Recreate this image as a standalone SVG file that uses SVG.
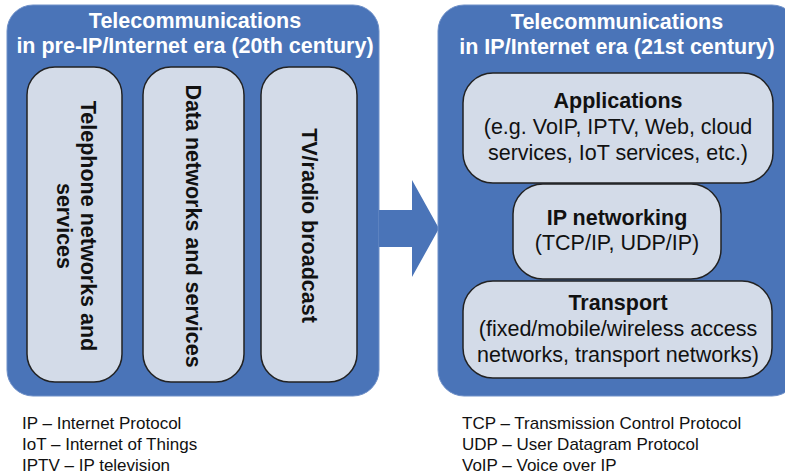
<svg xmlns="http://www.w3.org/2000/svg" width="785" height="475" viewBox="0 0 785 475">
<style>
.big{fill:#4a74b8;stroke:#6f90c8;stroke-width:1}
.pill{fill:#d3dbe8;stroke:#222;stroke-width:1.5}
.title{font-family:"Liberation Sans",Arial,sans-serif;font-weight:bold;font-size:21.5px;fill:#fff;text-anchor:middle}
.bt{font-family:"Liberation Sans",Arial,sans-serif;font-weight:bold;font-size:21.5px;fill:#111;text-anchor:middle}
.rt{font-family:"Liberation Sans",Arial,sans-serif;font-size:21.5px;fill:#111;text-anchor:middle}
.leg{font-family:"Liberation Sans",Arial,sans-serif;font-size:17px;fill:#111}
</style>
<g id="pre-ip-era">
<rect class="big" x="7" y="5" width="372" height="391" rx="26"/>
<text class="title" x="195" y="28">Telecommunications</text>
<text class="title" x="195" y="53">in pre-IP/Internet era (20th century)</text>
</g>
<g id="telephone">
<rect class="pill" x="27" y="67" width="95" height="315" rx="28"/>
<text class="bt" transform="translate(81,226) rotate(90)">Telephone networks and</text>
<text class="bt" transform="translate(57,226) rotate(90)">services</text>
</g>
<g id="data">
<rect class="pill" x="143" y="67" width="101" height="315" rx="28"/>
<text class="bt" transform="translate(186,226) rotate(90)">Data networks and services</text>
</g>
<g id="tv">
<rect class="pill" x="261" y="67" width="96" height="315" rx="28"/>
<text class="bt" transform="translate(302,225.5) rotate(90)">TV/radio broadcast</text>
</g>
<g id="connectors">
<path d="M379,210 H412 V180 L439,228.5 L412,277 V247 H379 Z" fill="#4a74b8"/>
</g>
<g id="ip-era">
<rect class="big" x="438" y="5" width="360" height="391" rx="26"/>
<text class="title" x="617" y="29">Telecommunications</text>
<text class="title" x="617" y="54">in IP/Internet era (21st century)</text>
</g>
<g id="applications">
<rect class="pill" x="463" y="73" width="310" height="110" rx="30"/>
<text class="bt" x="618" y="108">Applications</text>
<text class="rt" x="618" y="134">(e.g. VoIP, IPTV, Web, cloud</text>
<text class="rt" x="618" y="160">services, IoT services, etc.)</text>
</g>
<g id="ip-networking">
<rect class="pill" x="513" y="184" width="208" height="95" rx="30"/>
<text class="bt" x="617" y="225">IP networking</text>
<text class="rt" x="617" y="250">(TCP/IP, UDP/IP)</text>
</g>
<g id="transport">
<rect class="pill" x="463" y="281" width="309" height="97" rx="30"/>
<text class="bt" x="618" y="310">Transport</text>
<text class="rt" x="618" y="336">(fixed/mobile/wireless access</text>
<text class="rt" x="618" y="362">networks, transport networks)</text>
</g>
<g id="legend">
<text class="leg" x="22" y="429">IP – Internet Protocol</text>
<text class="leg" x="22" y="450">IoT – Internet of Things</text>
<text class="leg" x="22" y="471">IPTV – IP television</text>
<text class="leg" x="462" y="429">TCP – Transmission Control Protocol</text>
<text class="leg" x="462" y="450">UDP – User Datagram Protocol</text>
<text class="leg" x="462" y="471">VoIP – Voice over IP</text>
</g>
</svg>
